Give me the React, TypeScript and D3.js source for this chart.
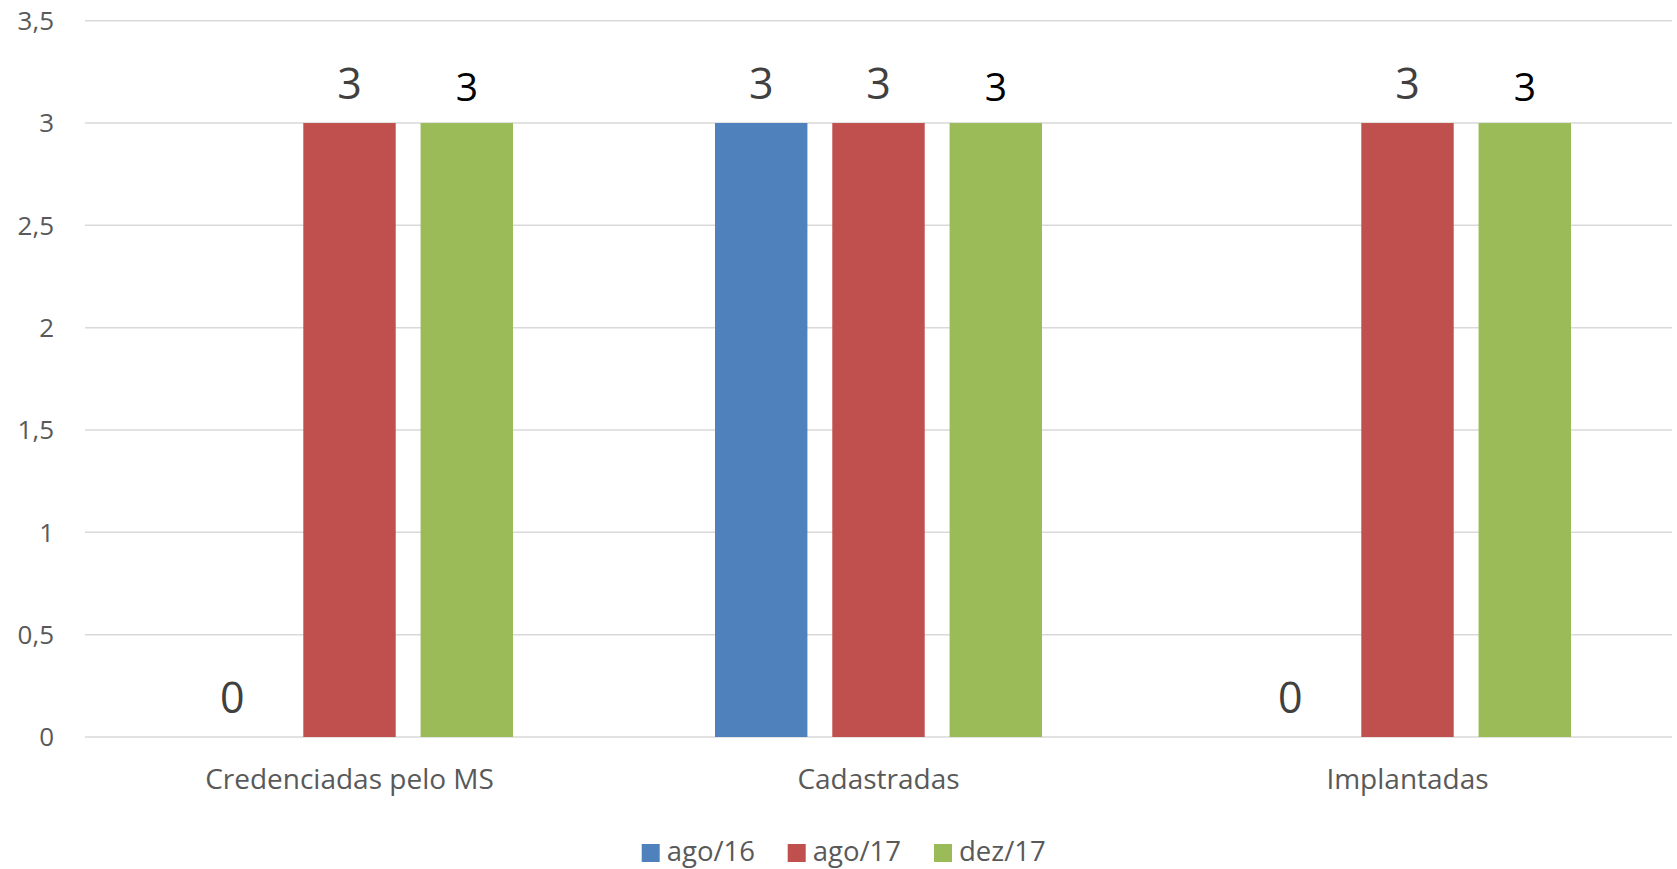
import React from "react";
import * as d3 from "d3";

const categories = ["Credenciadas pelo MS", "Cadastradas", "Implantadas"];
const seriesNames = ["ago/16", "ago/17", "dez/17"];
const ago16 = [0, 3, 0];
const ago17 = [3, 3, 3];
const dez17 = [3, 3, 3];
const yTicks = [0, 0.5, 1, 1.5, 2, 2.5, 3, 3.5];
const seriesColors = ["#4f81bd", "#c0504d", "#9bbb59"];

const W = 1677;
const H = 869;
const FONT = "'Open Sans', 'Liberation Sans', sans-serif";

export default function App() {
  const seriesValues = [ago16, ago17, dez17];
  const left = 85;
  const right = 1672;
  const top = 20.7;
  const bottom = 737;

  const x0 = d3.scaleBand<string>().domain(categories).range([left, right]).padding(0);
  const groupHalf = 163.5;
  const x1 = d3
    .scaleBand<string>()
    .domain(seriesNames)
    .range([-groupHalf, groupHalf])
    .paddingInner(0.212)
    .paddingOuter(0);
  const y = d3.scaleLinear().domain([0, 3.5]).range([bottom, top]);
  const fmt = (v: number) => String(v).replace(".", ",");

  return (
    <svg
      width={W}
      height={H}
      style={{ position: "absolute", left: 0, top: 0, background: "#fff" }}
      fontFamily={FONT}
    >
      {yTicks.map((t) => (
        <g key={t}>
          <line x1={left} x2={right} y1={y(t)} y2={y(t)} stroke="#d9d9d9" strokeWidth={1.5} />
          <text
            x={54}
            y={y(t)}
            dy="0.36em"
            textAnchor="end"
            fontSize={26}
            fill="#595959"
          >
            {fmt(t)}
          </text>
        </g>
      ))}
      {categories.map((c, ci) => {
        const cx = (x0(c) as number) + x0.bandwidth() / 2;
        return (
          <g key={c}>
            {seriesNames.map((s, si) => {
              const v = seriesValues[si][ci];
              const bx = cx + (x1(s) as number);
              const bw = x1.bandwidth();
              const isGreen = si === 2;
              return (
                <g key={s}>
                  {v > 0 && (
                    <rect
                      x={bx}
                      y={y(v)}
                      width={bw}
                      height={y(0) - y(v)}
                      fill={seriesColors[si]}
                    />
                  )}
                  <text
                    x={bx + bw / 2}
                    y={y(v) - (isGreen ? 22 : 24)}
                    textAnchor="middle"
                    fontSize={isGreen ? 39 : 43}
                    fill={isGreen ? "#000000" : "#404040"}
                  >
                    {fmt(v)}
                  </text>
                </g>
              );
            })}
            <text x={cx} y={789} textAnchor="middle" fontSize={28} fill="#595959">
              {c}
            </text>
          </g>
        );
      })}
      {(() => {
        const legendX = [641.7, 787.7, 934];
        return seriesNames.map((s, si) => (
          <g key={s}>
            <rect x={legendX[si]} y={844} width={18} height={18} fill={seriesColors[si]} />
            <text x={legendX[si] + 25} y={861} fontSize={27.5} fill="#595959">
              {s}
            </text>
          </g>
        ));
      })()}
    </svg>
  );
}
